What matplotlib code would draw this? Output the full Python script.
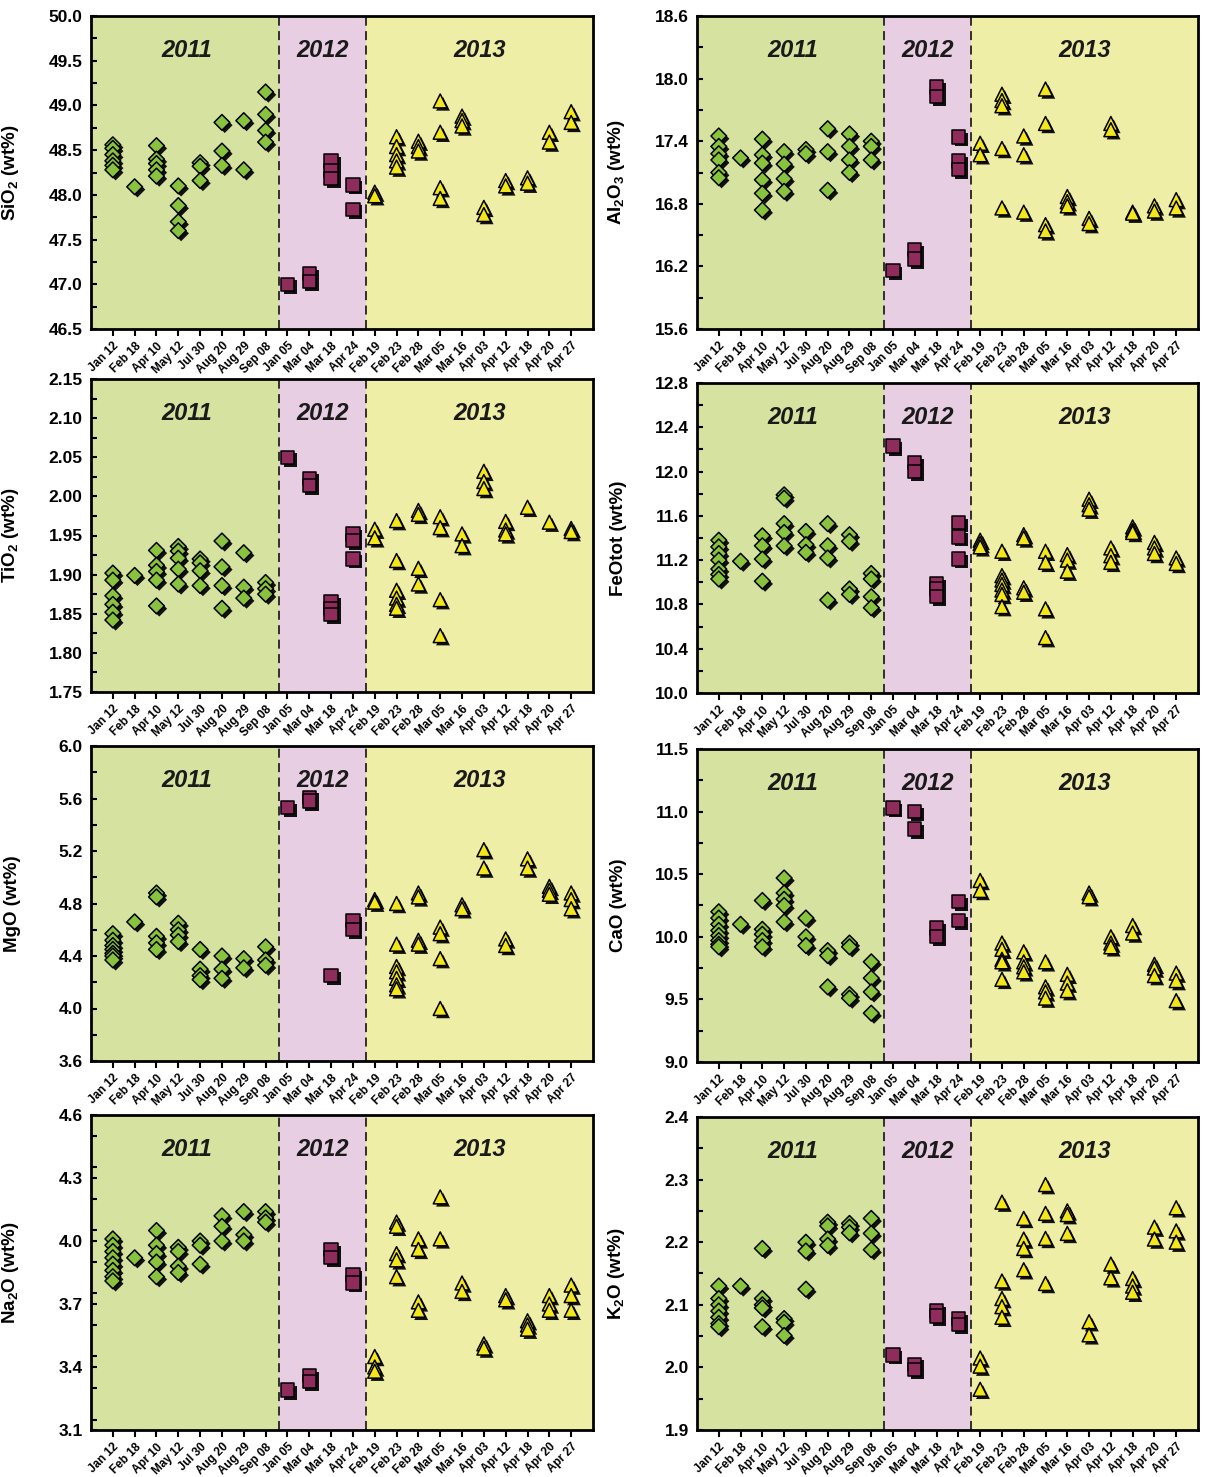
import matplotlib
matplotlib.use('Agg')
import matplotlib.pyplot as plt
import matplotlib.patheffects as pe
from matplotlib.ticker import MultipleLocator, FormatStrFormatter
import numpy as np

plt.rcParams['font.family'] = ['Liberation Sans', 'DejaVu Sans']
plt.rcParams['font.weight'] = 'bold'
plt.rcParams['mathtext.fontset'] = 'custom'
plt.rcParams['mathtext.rm'] = 'Liberation Sans:bold'
plt.rcParams['mathtext.bf'] = 'Liberation Sans:bold'
plt.rcParams['mathtext.default'] = 'rm'

# sampling dates, grouped by eruption year
dates_2011 = ['Jan 12', 'Feb 18', 'Apr 10', 'May 12', 'Jul 30', 'Aug 20', 'Aug 29', 'Sep 08']
dates_2012 = ['Jan 05', 'Mar 04', 'Mar 18', 'Apr 24']
dates_2013 = ['Feb 19', 'Feb 23', 'Feb 28', 'Mar 05', 'Mar 16', 'Apr 03', 'Apr 12', 'Apr 18', 'Apr 20', 'Apr 27']
dates = dates_2011 + dates_2012 + dates_2013
years = ['2011', '2012', '2013']

# analyses per sampling date (wt%)
sio2 = [[48.56, 48.52, 48.45, 48.38, 48.33, 48.28], [48.09], [48.55, 48.40, 48.35, 48.28, 48.21],
        [48.10, 47.88, 47.70, 47.60], [48.36, 48.32, 48.16], [48.81, 48.49, 48.33], [48.83, 48.28],
        [49.15, 48.90, 48.72, 48.59],
        [47.00], [47.12, 47.03], [48.38, 48.27, 48.18], [48.11, 47.84],
        [48.03, 47.99], [48.65, 48.54, 48.45, 48.38, 48.31], [48.60, 48.54, 48.49],
        [49.05, 48.70, 48.08, 47.96], [48.88, 48.83, 48.77], [47.86, 47.78], [48.16, 48.10],
        [48.19, 48.13], [48.70, 48.59], [48.93, 48.81]]

al2o3 = [[17.45, 17.35, 17.28, 17.22, 17.10, 17.05], [17.24], [17.42, 17.27, 17.19, 17.03, 16.90, 16.74],
         [17.30, 17.18, 17.04, 16.92], [17.32, 17.28], [17.52, 17.30, 16.93], [17.47, 17.35, 17.22, 17.10],
         [17.40, 17.35, 17.22],
         [16.16], [16.36, 16.27], [17.92, 17.83], [17.44, 17.21, 17.13],
         [17.38, 17.27], [17.85, 17.79, 17.74, 17.33, 16.76], [17.45, 17.27, 16.72],
         [17.90, 17.57, 16.60, 16.54], [16.87, 16.82, 16.78], [16.66, 16.61], [17.57, 17.51],
         [16.72, 16.71], [16.78, 16.73], [16.84, 16.76]]

tio2 = [[1.902, 1.893, 1.873, 1.862, 1.852, 1.842], [1.899], [1.931, 1.912, 1.904, 1.893, 1.860],
        [1.936, 1.930, 1.921, 1.907, 1.888], [1.920, 1.915, 1.905, 1.886], [1.943, 1.910, 1.886, 1.857],
        [1.928, 1.884, 1.870], [1.890, 1.882, 1.875],
        [2.050], [2.023, 2.014], [1.865, 1.857, 1.849], [1.952, 1.944, 1.920],
        [1.958, 1.947], [1.969, 1.918, 1.880, 1.870, 1.862, 1.857], [1.982, 1.977, 1.908, 1.888],
        [1.974, 1.960, 1.868, 1.822], [1.952, 1.937], [2.032, 2.019, 2.010], [1.968, 1.957, 1.952],
        [1.986], [1.967], [1.959, 1.955]]

feotot = [[11.38, 11.32, 11.26, 11.20, 11.12, 11.07, 11.03], [11.19], [11.42, 11.33, 11.21, 11.01],
          [11.79, 11.76, 11.53, 11.45, 11.33], [11.46, 11.34, 11.27], [11.53, 11.33, 11.22, 10.84],
          [11.43, 11.37, 10.94, 10.89], [11.08, 11.03, 10.87, 10.77],
          [12.23], [12.08, 12.00], [10.99, 10.94, 10.87], [11.54, 11.41, 11.21],
          [11.38, 11.35, 11.32], [11.28, 11.06, 11.02, 10.98, 10.93, 10.89, 10.78], [11.43, 11.40, 10.95, 10.91],
          [11.28, 11.18, 10.76, 10.50], [11.25, 11.20, 11.10], [11.75, 11.70, 11.66], [11.31, 11.24, 11.18],
          [11.50, 11.47, 11.45], [11.36, 11.31, 11.26], [11.22, 11.17]]

mgo = [[4.57, 4.52, 4.48, 4.45, 4.42, 4.40, 4.37], [4.66], [4.88, 4.85, 4.55, 4.50, 4.45],
       [4.65, 4.60, 4.56, 4.51], [4.45, 4.30, 4.25, 4.22], [4.40, 4.30, 4.23], [4.38, 4.31],
       [4.47, 4.37, 4.33],
       [5.53], [5.61, 5.58], [4.25], [4.67, 4.60],
       [4.83, 4.81], [4.80, 4.49, 4.32, 4.28, 4.23, 4.18, 4.15], [4.88, 4.85, 4.52, 4.49],
       [4.62, 4.57, 4.38, 4.00], [4.79, 4.76], [5.21, 5.07], [4.53, 4.48],
       [5.14, 5.07], [4.93, 4.90, 4.87], [4.88, 4.83, 4.76]]

cao = [[10.20, 10.15, 10.10, 10.05, 10.01, 9.97, 9.94, 9.92], [10.10], [10.29, 10.06, 10.02, 9.97, 9.92],
       [10.47, 10.35, 10.30, 10.25, 10.12], [10.15, 10.00, 9.93], [9.89, 9.85, 9.60], [9.95, 9.92, 9.54, 9.51],
       [9.80, 9.67, 9.56, 9.39],
       [11.03], [11.00, 10.86], [10.07, 10.00], [10.28, 10.13],
       [10.45, 10.37], [9.95, 9.90, 9.82, 9.80, 9.66], [9.88, 9.80, 9.76, 9.72],
       [9.80, 9.60, 9.56, 9.51], [9.70, 9.63, 9.57], [10.35, 10.32], [10.00, 9.95, 9.92],
       [10.09, 10.03], [9.78, 9.75, 9.69], [9.71, 9.65, 9.49]]

na2o = [[4.01, 3.98, 3.95, 3.92, 3.89, 3.86, 3.83, 3.81], [3.92], [4.05, 3.98, 3.94, 3.90, 3.83],
        [3.97, 3.95, 3.88, 3.85], [4.00, 3.98, 3.89], [4.12, 4.07, 4.00], [4.14, 4.03, 4.00],
        [4.14, 4.11, 4.09],
        [3.29], [3.36, 3.33], [3.96, 3.92], [3.84, 3.80],
        [3.45, 3.40, 3.38], [4.09, 4.07, 3.94, 3.91, 3.83], [4.01, 3.96, 3.71, 3.67],
        [4.21, 4.01], [3.80, 3.76], [3.51, 3.49], [3.74, 3.72],
        [3.62, 3.60, 3.58], [3.74, 3.70, 3.67], [3.79, 3.74, 3.67]]

k2o = [[2.130, 2.110, 2.100, 2.090, 2.080, 2.070, 2.065], [2.130], [2.190, 2.110, 2.100, 2.095, 2.065],
       [2.078, 2.072, 2.051], [2.200, 2.186, 2.125], [2.232, 2.226, 2.205, 2.195], [2.230, 2.224, 2.215],
       [2.238, 2.214, 2.188],
       [2.020], [2.005, 1.997], [2.090, 2.082], [2.078, 2.068],
       [2.015, 2.002, 1.965], [2.264, 2.138, 2.110, 2.097, 2.080], [2.238, 2.205, 2.190, 2.156],
       [2.292, 2.246, 2.206, 2.134], [2.250, 2.244, 2.214], [2.073, 2.052], [2.165, 2.143],
       [2.142, 2.130, 2.120], [2.224, 2.205], [2.255, 2.218, 2.200]]

# label, data, y range, tick step, tick format, axes box in pixels (left, top, right, bottom)
panels = [
    ('SiO$_2$ (wt%)', sio2, 46.5, 50.0, 0.5, '%.1f', (91, 16, 593, 329)),
    ('Al$_2$O$_3$ (wt%)', al2o3, 15.6, 18.6, 0.6, '%.1f', (697, 16, 1198, 329)),
    ('TiO$_2$ (wt%)', tio2, 1.75, 2.15, 0.05, '%.2f', (91, 379, 593, 692)),
    ('FeOtot (wt%)', feotot, 10.0, 12.8, 0.4, '%.1f', (697, 383, 1198, 693)),
    ('MgO (wt%)', mgo, 3.6, 6.0, 0.4, '%.1f', (91, 746, 593, 1061)),
    ('CaO (wt%)', cao, 9.0, 11.5, 0.5, '%.1f', (697, 749, 1198, 1062)),
    ('Na$_2$O (wt%)', na2o, 3.1, 4.6, 0.3, '%.1f', (91, 1115, 593, 1430)),
    ('K$_2$O (wt%)', k2o, 1.9, 2.4, 0.1, '%.1f', (697, 1117, 1198, 1430)),
]

W, H = 1205, 1477
bg = ['#d6e2a0', '#e7cee2', '#efeea7']
face = ['#88c23e', '#8e2d5c', '#f3e61c']
markers = ['D', 's', '^']
sizes = [64, 92, 100]
splits = [8.6, 12.6]
bounds = [0, splits[0], splits[1], 23]
year_x = [4.4, 10.6, 17.8]
groups = [range(0, 8), range(8, 12), range(12, 22)]

shadow = [pe.SimplePatchShadow(offset=(2, -2), shadow_rgbFace='#111111', alpha=1.0), pe.Normal()]

fig = plt.figure(figsize=(W / 100, H / 100), dpi=100)
xpos = np.arange(1, len(dates) + 1)

for label, data, lo, hi, step, fmt, (l, t, r, b) in panels:
    ax = fig.add_axes([l / W, 1 - b / H, (r - l) / W, (b - t) / H])
    ax.set_xlim(bounds[0], bounds[-1])
    ax.set_ylim(lo, hi)

    for k in range(3):
        ax.axvspan(bounds[k], bounds[k + 1], color=bg[k], zorder=0, lw=0)
        ax.text(year_x[k], 0.89, years[k], transform=ax.get_xaxis_transform(),
                ha='center', va='center', fontsize=17, fontweight='bold',
                style='italic', color='#1a1a1a', zorder=2)
    for s in splits:
        ax.axvline(s, color='#222222', ls=(0, (5, 3)), lw=1.3, zorder=1)

    for k, idx in enumerate(groups):
        xs = [xpos[i] for i in idx for _ in data[i]]
        ys = [v for i in idx for v in data[i]]
        ax.scatter(xs, ys, marker=markers[k], s=sizes[k], facecolor=face[k],
                   edgecolor='black', linewidth=1.1, zorder=3, path_effects=shadow,
                   clip_on=False)

    ax.set_xticks(xpos)
    ax.set_xticklabels(dates, rotation=45, ha='right', rotation_mode='anchor',
                       fontsize=8.5, fontweight='bold')
    ax.set_yticks(np.round(np.arange(lo, hi + step / 2, step), 3))
    ax.yaxis.set_minor_locator(MultipleLocator(step / 2))
    ax.yaxis.set_major_formatter(FormatStrFormatter(fmt))
    ax.tick_params(axis='y', which='both', direction='in', length=4, width=1.5,
                   labelsize=12.5, pad=6)
    ax.tick_params(axis='x', direction='out', length=5, width=1.5, pad=3)
    for lab in ax.get_yticklabels():
        lab.set_fontweight('bold')
    for sp in ax.spines.values():
        sp.set_linewidth(2)
    ax.set_ylabel(label, fontsize=13.5, fontweight='bold')
    ax.yaxis.set_label_coords(-70 / (r - l), 0.5)

fig.savefig('out.png', dpi=100)
